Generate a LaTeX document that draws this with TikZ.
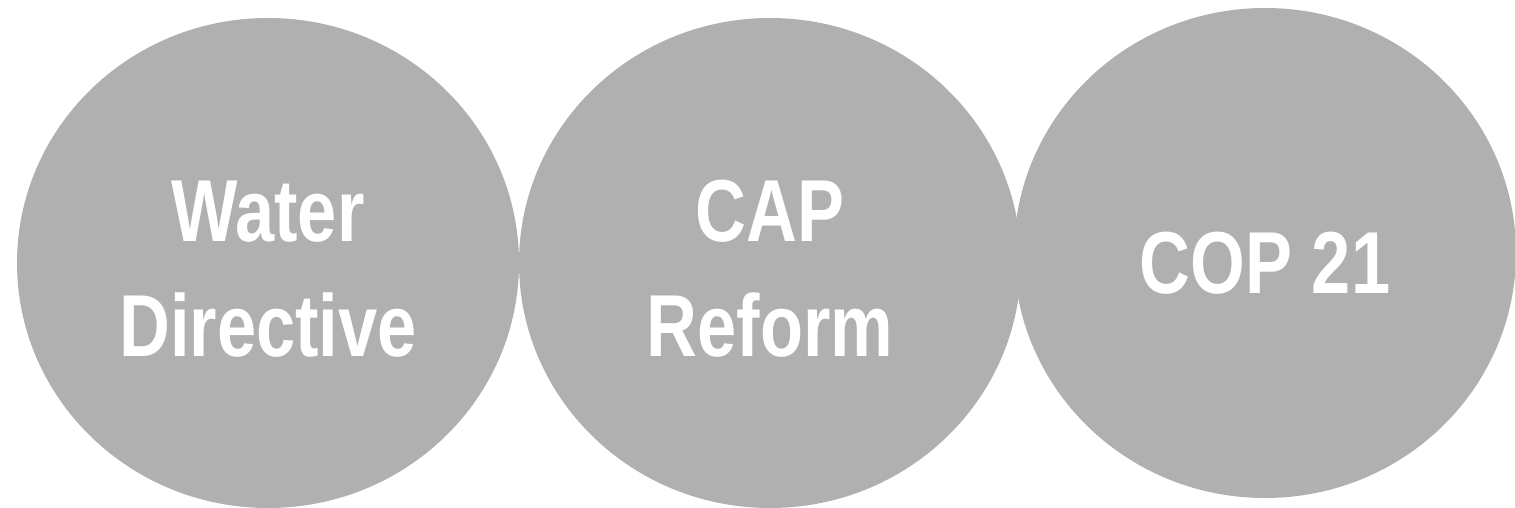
\documentclass[tikz,border=0pt]{standalone}
\usepackage{fontspec}
\newfontfamily\labelfont[FakeStretch=0.8]{Liberation Sans}
\usetikzlibrary{shapes.geometric}
\definecolor{discgray}{HTML}{B0B0B0}
\begin{document}
\begin{tikzpicture}[x=0.5pt, y=-0.5pt,
		discstyle/.style={ellipse, fill=discgray, inner sep=0mm, minimum width=251pt, minimum height=245pt},
		labelstyle/.style={text=white, align=center, font=\labelfont\bfseries\fontsize{44}{57.5}\selectfont}]
		\useasboundingbox (0,0) rectangle (1515,508);
		\node [discstyle] (water) at (268,263) {};
		\node [discstyle] (cap) at (770,263) {};
		\node [discstyle] (cop) at (1265,253) {};

		\node [labelstyle, yshift=-3pt] (waterlabel) at (water) {Water\\Directive};
		\node [labelstyle, yshift=-3pt] (caplabel) at (cap) {CAP\\Reform};
		\node [labelstyle, yshift=-5pt] (coplabel) at (cop) {COP 21};
		\end{tikzpicture}
\end{document}
